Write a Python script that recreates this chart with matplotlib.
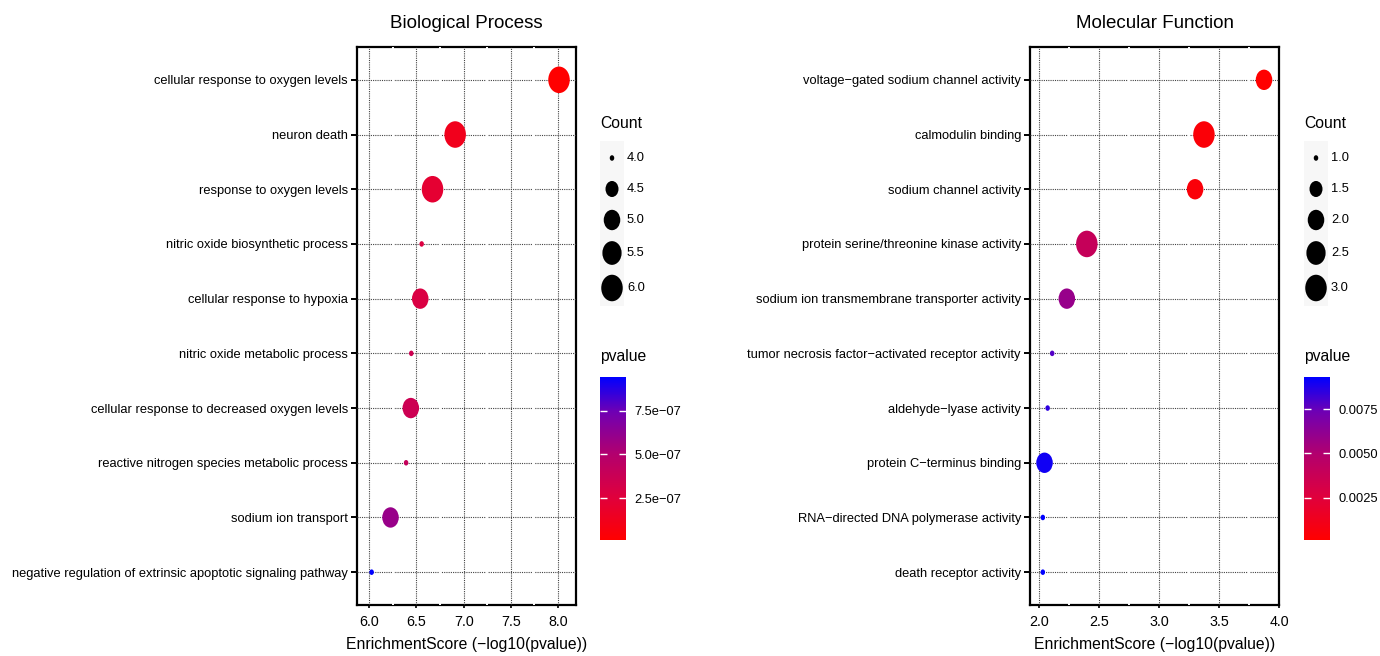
import numpy as np
import matplotlib
matplotlib.use("Agg")
import matplotlib.pyplot as plt
from matplotlib.colors import LinearSegmentedColormap, Normalize
from matplotlib.cm import ScalarMappable
from matplotlib.markers import MarkerStyle
from matplotlib.path import Path
from matplotlib.transforms import Affine2D
from matplotlib.patches import Rectangle

plt.rcParams['font.family'] = ['Liberation Sans', 'DejaVu Sans']

# ---- data (top to bottom) ----
bp_terms = ["cellular response to oxygen levels", "neuron death", "response to oxygen levels",
            "nitric oxide biosynthetic process", "cellular response to hypoxia",
            "nitric oxide metabolic process", "cellular response to decreased oxygen levels",
            "reactive nitrogen species metabolic process", "sodium ion transport",
            "negative regulation of extrinsic apoptotic signaling pathway"]
bp_score = [8.01, 6.91, 6.67, 6.555, 6.54, 6.445, 6.44, 6.39, 6.225, 6.025]
bp_count = [6, 6, 6, 4, 5, 4, 5, 4, 5, 4]
bp_pvalue = [9.7e-09, 1.23e-07, 2.14e-07, 2.79e-07, 2.88e-07, 3.59e-07, 3.63e-07,
             4.07e-07, 5.96e-07, 9.44e-07]

mf_terms = ["voltage\u2212gated sodium channel activity", "calmodulin binding",
            "sodium channel activity", "protein serine/threonine kinase activity",
            "sodium ion transmembrane transporter activity",
            "tumor necrosis factor\u2212activated receptor activity", "aldehyde\u2212lyase activity",
            "protein C\u2212terminus binding", "RNA\u2212directed DNA polymerase activity",
            "death receptor activity"]
mf_score = [3.875, 3.374, 3.30, 2.397, 2.23, 2.108, 2.07, 2.044, 2.03, 2.03]
mf_count = [2, 3, 2, 3, 2, 1, 1, 2, 1, 1]
mf_pvalue = [1.33e-04, 4.23e-04, 5.0e-04, 4.0e-03, 5.9e-03, 7.8e-03, 8.5e-03,
             9.0e-03, 9.3e-03, 9.3e-03]

bp_size_breaks = [4.0, 4.5, 5.0, 5.5, 6.0]
mf_size_breaks = [1.0, 1.5, 2.0, 2.5, 3.0]
bp_p_ticks = [2.5e-07, 5.0e-07, 7.5e-07]
bp_p_labels = ["2.5e\u221207", "5.0e\u221207", "7.5e\u221207"]
mf_p_ticks = [0.0025, 0.0050, 0.0075]
mf_p_labels = ["0.0025", "0.0050", "0.0075"]

BASE = 11.3
SMALL = 9.25

# red -> blue gradient, stops sampled from the colour bar
cmap = LinearSegmentedColormap.from_list(
    "redblue", [(0.0, "#FF0000"), (0.26, "#E0003C"), (0.52, "#B4006C"),
                (0.79, "#6E00B4"), (1.0, "#0000FF")])

# elliptical dot (source image is stretched vertically)
ASPECT = 0.81
ell = Path.unit_circle().transformed(Affine2D().scale(ASPECT, 1.0))
dot = MarkerStyle(ell)


def marker_s(c, cmin, cmax):
    d = 4.5 + 17 * np.sqrt((np.asarray(c, float) - cmin) / (cmax - cmin))
    h = d / ASPECT * 0.72
    return h ** 2


W, H = 1380, 656
fig = plt.figure(figsize=(W / 100, H / 100), dpi=100)
over = fig.add_axes([0, 0, 1, 1], zorder=10)
over.set_xlim(0, W)
over.set_ylim(H, 0)
over.axis('off')
over.patch.set_alpha(0)


def panel(x0, x1, xlim, xticks, terms, score, count, pvalue, title,
          size_breaks, ptick, plabel, leg_x):
    ax = fig.add_axes([x0 / W, 1 - 605 / H, (x1 - x0) / W, 558 / H])
    n = len(terms)
    ypos = np.arange(n, 0, -1)
    cmin, cmax = min(count), max(count)
    norm = Normalize(min(pvalue), max(pvalue))
    ax.scatter(score, ypos, s=marker_s(count, cmin, cmax), c=pvalue, cmap=cmap, norm=norm,
               marker=dot, edgecolors='none', zorder=4)
    ax.set_xlim(*xlim)
    ax.set_ylim(0.4, n + 0.6)
    ax.set_xticks(xticks)
    ax.set_xticklabels([f"{v:.1f}" for v in xticks], fontsize=10.3)
    ax.set_yticks(ypos)
    ax.set_yticklabels(terms, fontsize=SMALL)
    ax.grid(True, color='#444444', linestyle=(0, (1, 1)), linewidth=0.8, zorder=1)
    ax.set_axisbelow(True)
    for sp in ax.spines.values():
        sp.set_linewidth(1.6)
        sp.set_zorder(0.5)
    minors = np.append(np.array(xticks[:-1]) + 0.25, xticks[-1] + 0.25)
    minors = minors[(minors > xlim[0]) & (minors < xlim[1])]
    ax.vlines(minors, 0.4, n + 0.6, colors='white', linewidth=1.4, zorder=0.8)
    ax.tick_params(axis='y', length=4.5, width=1.4, pad=2, color='black')
    ax.tick_params(axis='x', length=2.5, width=1.2, pad=5, color='black')
    xc = (x0 + x1) / 2
    over.text(xc, 24, title, ha='center', va='center', fontsize=13.5)
    over.text(xc, 645, "EnrichmentScore (\u2212log10(pvalue))", ha='center', va='center',
              fontsize=BASE)

    # size legend
    over.text(leg_x, 123, "Count", ha='left', va='center', fontsize=BASE)
    key_y = [158, 189, 220, 253, 288]
    over.add_patch(Rectangle((leg_x, 141), 24, 165, facecolor='#F7F7F7', edgecolor='none'))
    over.scatter([leg_x + 12] * len(size_breaks), key_y,
                 s=marker_s(size_breaks, cmin, cmax), c='black', marker=dot, edgecolors='none')
    for yy, v in zip(key_y, size_breaks):
        over.text(leg_x + 27, yy, f"{v:.1f}", ha='left', va='center', fontsize=SMALL)

    # colour bar
    over.text(leg_x, 357, "pvalue", ha='left', va='center', fontsize=BASE)
    cax = fig.add_axes([leg_x / W, 1 - 540 / H, 26 / W, 163 / H])
    cb = fig.colorbar(ScalarMappable(norm=norm, cmap=cmap), cax=cax)
    cb.outline.set_visible(False)
    cb.set_ticks(ptick)
    cb.set_ticklabels(plabel)
    cax.tick_params(direction='in', length=5, width=1, color='white', left=True, right=True,
                    labelleft=False, labelright=True, labelsize=SMALL, pad=6)
    return ax


panel(357, 576, (5.87, 8.19), [6.0, 6.5, 7.0, 7.5, 8.0], bp_terms, bp_score, bp_count,
      bp_pvalue, "Biological Process", bp_size_breaks, bp_p_ticks, bp_p_labels, 600)
panel(1030, 1279, (1.923, 3.99), [2.0, 2.5, 3.0, 3.5, 4.0], mf_terms, mf_score, mf_count,
      mf_pvalue, "Molecular Function", mf_size_breaks, mf_p_ticks, mf_p_labels, 1304)

fig.savefig("out.png", dpi=100)
